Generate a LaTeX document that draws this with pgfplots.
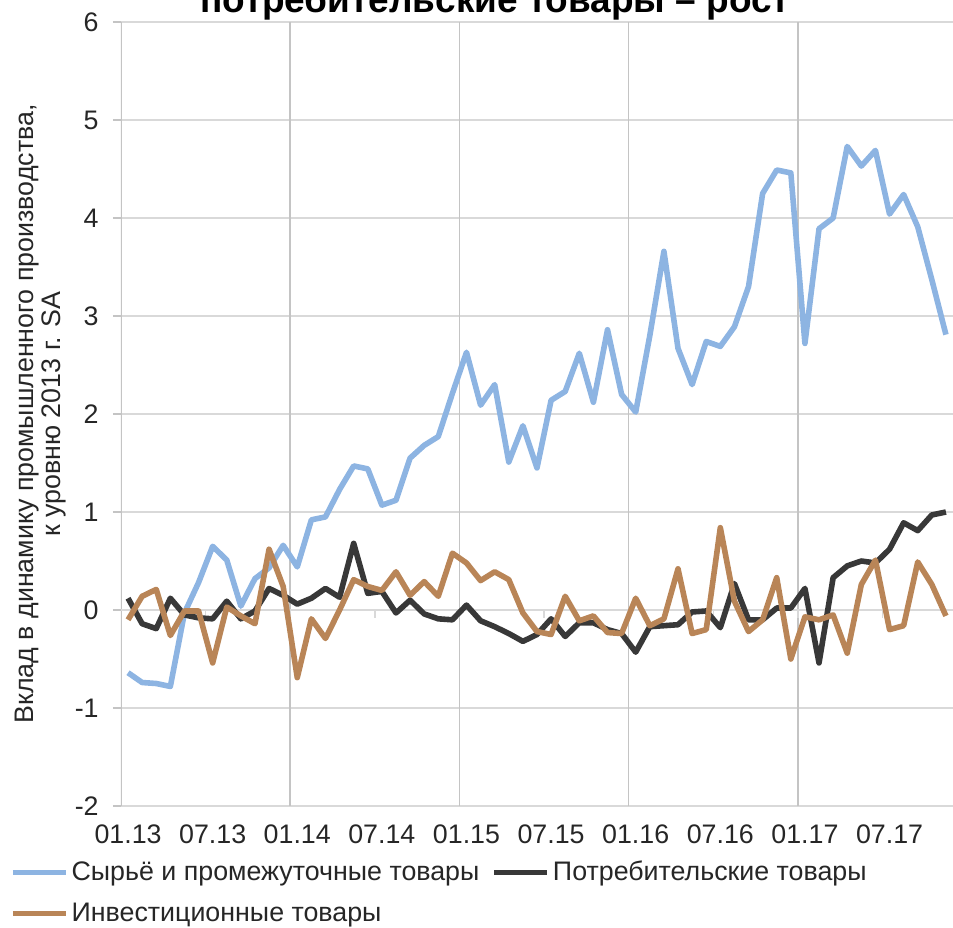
\documentclass[border=0pt]{standalone}
\usepackage{pgfplots}
\usepackage{pgfplotstable}
\pgfplotsset{compat=1.18}
\usepackage{fontspec}
\setmainfont{Liberation Sans}
\definecolor{cblue}{HTML}{8DB4E2}
\definecolor{cdark}{HTML}{383838}
\definecolor{cbrown}{HTML}{B98557}
\definecolor{gridh}{HTML}{D9D9D9}
\definecolor{gridv}{HTML}{C4C4C4}
\definecolor{txt}{HTML}{262626}

\pgfplotstableread{
i blue dark brown
0 -0.64 0.12 -0.10
1 -0.74 -0.14 0.14
2 -0.75 -0.19 0.21
3 -0.78 0.12 -0.26
4 -0.03 -0.05 -0.01
5 0.28 -0.08 -0.01
6 0.65 -0.09 -0.54
7 0.51 0.09 0.03
8 0.04 -0.09 -0.06
9 0.32 -0.01 -0.14
10 0.43 0.22 0.62
11 0.66 0.15 0.24
12 0.44 0.06 -0.69
13 0.92 0.12 -0.09
14 0.95 0.22 -0.29
15 1.23 0.13 0.00
16 1.47 0.68 0.31
17 1.44 0.17 0.24
18 1.07 0.19 0.20
19 1.12 -0.03 0.39
20 1.55 0.10 0.15
21 1.68 -0.04 0.29
22 1.77 -0.09 0.14
23 2.21 -0.10 0.58
24 2.63 0.05 0.48
25 2.09 -0.11 0.30
26 2.30 -0.17 0.39
27 1.51 -0.24 0.31
28 1.88 -0.32 -0.03
29 1.45 -0.25 -0.22
30 2.14 -0.09 -0.25
31 2.23 -0.27 0.14
32 2.62 -0.13 -0.11
33 2.12 -0.13 -0.06
34 2.86 -0.20 -0.23
35 2.20 -0.24 -0.24
36 2.02 -0.43 0.12
37 2.80 -0.17 -0.16
38 3.66 -0.16 -0.09
39 2.67 -0.15 0.42
40 2.30 -0.02 -0.24
41 2.74 -0.01 -0.20
42 2.69 -0.18 0.84
43 2.89 0.27 0.09
44 3.30 -0.10 -0.22
45 4.25 -0.10 -0.10
46 4.49 0.02 0.33
47 4.46 0.02 -0.50
48 2.72 0.22 -0.07
49 3.89 -0.54 -0.10
50 4.00 0.33 -0.05
51 4.73 0.45 -0.44
52 4.53 0.50 0.26
53 4.69 0.48 0.51
54 4.04 0.62 -0.20
55 4.24 0.89 -0.16
56 3.91 0.81 0.49
57 3.37 0.97 0.26
58 2.81 1.00 -0.06
}\data

\begin{document}
\begin{tikzpicture}
\begin{axis}[
  at={(0pt,0pt)}, anchor=south west,
  scale only axis, width=416pt, height=392pt,
  xmin=-0.5, xmax=58.5, ymin=-2, ymax=6,
  axis line style={draw=none},
  xtick={0,6,...,54},
  xticklabels={01.13,07.13,01.14,07.14,01.15,07.15,01.16,07.16,01.17,07.17},
  xtick style={draw=none},
  ytick={-2,-1,...,6},
  yticklabels={-2,-1,0,1,2,3,4,5,6},
  ytick pos=left, xtick pos=bottom,
  tick align=outside, major tick length=4pt,
  ytick style={draw=gridv, line width=0.75pt},
  ymajorgrids, major grid style={draw=gridh, line width=0.75pt},
  tick label style={font=\fontsize{13.4}{16}\selectfont, text=txt},
  xticklabel style={anchor=center, yshift=-10pt},
  yticklabel style={anchor=east, inner sep=0pt, xshift=-7pt},
  ylabel={Вклад в динамику промышленного производства,\\к уровню 2013 г. SA},
  ylabel style={align=center, at={(axis description cs:-0.0968,0.5)}, anchor=center,
    font=\fontsize{13.4}{13.8}\selectfont, text=txt},
  legend columns=2,
  legend cell align=left,
  legend style={at={(axis description cs:-0.1334,-0.064)}, anchor=north west,
    draw=none, fill=none, inner sep=0pt, outer sep=0pt,
    font=\fontsize{13.4}{16}\selectfont, text=txt,
    nodes={inner xsep=1.5pt, inner ysep=2.5pt},
    row sep=4.5pt,
    /tikz/every even column/.append style={column sep=4.5pt}},
  legend image code/.code={\draw[#1] (0pt,0pt) -- (26.5pt,0pt);},
  every axis plot/.append style={line width=2.8pt, line join=round},
]
\draw[gridv, line width=0.75pt] (axis cs:-0.5,-2) -- (axis cs:-0.5,6);
\draw[gridv, line width=0.75pt] (axis cs:11.5,-2) -- (axis cs:11.5,6);
\draw[gridv, line width=0.75pt] (axis cs:23.5,-2) -- (axis cs:23.5,6);
\draw[gridv, line width=0.75pt] (axis cs:35.5,-2) -- (axis cs:35.5,6);
\draw[gridv, line width=0.75pt] (axis cs:47.5,-2) -- (axis cs:47.5,6);
\draw[gridh, line width=0.75pt] (axis cs:-0.5,0) -- (axis cs:58.5,0);
\pgfplotsinvokeforeach{5.5,11.5,17.5,23.5,29.5,35.5,41.5,47.5,53.5}{
  \draw[gridh, line width=0.75pt] (axis cs:#1,0) -- ++(0pt,-4pt);
}
\addplot[cblue, no markers] table[x=i, y=blue] {\data};
\addlegendentry{Сырьё и промежуточные товары}
\addplot[cdark, no markers] table[x=i, y=dark] {\data};
\addlegendentry{Потребительские товары}
\addplot[cbrown, no markers] table[x=i, y=brown] {\data};
\addlegendentry{Инвестиционные товары}
\end{axis}
\node[overlay, anchor=base, font=\fontsize{18.5}{22}\selectfont\bfseries, text=black] at (187pt,396.5pt) {потребительские товары – рост};
\pgfresetboundingbox
\useasboundingbox (-60.5pt,-60.5pt) rectangle (416pt,403pt);
\end{tikzpicture}
\end{document}
